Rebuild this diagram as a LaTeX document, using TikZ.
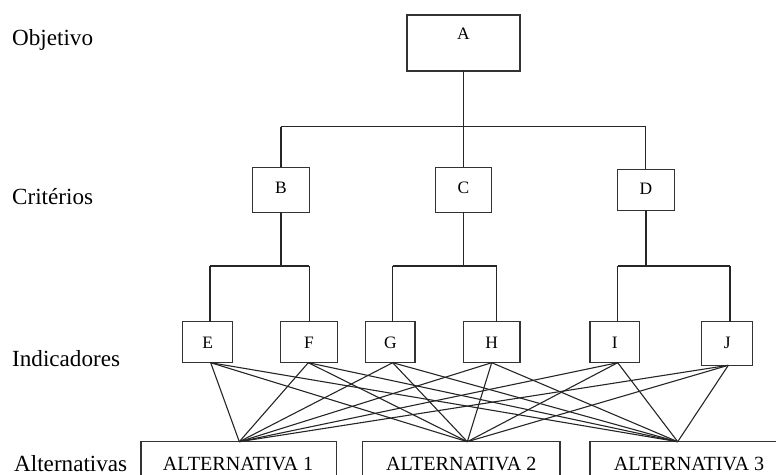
\documentclass[tikz,border=0pt]{standalone}
\usepackage{fontspec}
\setmainfont{Liberation Serif}
\begin{document}
\begin{tikzpicture}[x=1bp,y=-1bp,
  box/.style={draw=black!80, line width=1.3bp, inner sep=0pt, outer sep=0pt},
  letter/.style={anchor=base, inner sep=0pt, font=\fontsize{17.5}{20}\selectfont},
  alttext/.style={anchor=base, inner sep=0pt, font=\fontsize{20.2}{24}\selectfont},
  level/.style={anchor=base west, inner sep=0pt, font=\fontsize{23.2}{27}\selectfont},
  wire/.style={draw=black!85, line width=1.1bp}]
\useasboundingbox (0,0) rectangle (776,475);
\clip (0,0) rectangle (776,475);

% level names
\node[level] (lObj) at (12,46) {Objetivo};
\node[level] (lCri) at (12,205) {Critérios};
\node[level] (lInd) at (12,366.7) {Indicadores};
\node[level, text depth=0pt] (lAlt) at (14,471.5) {Alternativas};

% objective
\node[box, minimum width=113bp, minimum height=56bp] (A) at (463.5,43) {};
\node[letter] (tA) at (463.5,39.3) {A};

% criteria
\node[box, minimum width=56.6bp, minimum height=45bp] (B) at (281,189.8) {};
\node[box, minimum width=56.4bp, minimum height=45bp] (C) at (463.5,189.8) {};
\node[box, minimum width=57.4bp, minimum height=41bp] (D) at (646,189.8) {};
\node[letter] (tB) at (281,193.3) {B};
\node[letter] (tC) at (463.5,193.3) {C};
\node[letter] (tD) at (646,195) {D};

% indicators
\node[box, minimum width=50bp, minimum height=41bp] (E) at (207.7,342.2) {};
\node[box, minimum width=56.6bp, minimum height=41bp] (F) at (309,342.2) {};
\node[box, minimum width=49.3bp, minimum height=41bp] (G) at (390.3,342.2) {};
\node[box, minimum width=56.7bp, minimum height=41bp] (H) at (491.7,342.2) {};
\node[box, minimum width=49.3bp, minimum height=41bp] (I) at (614.7,342.2) {};
\node[box, minimum width=51bp, minimum height=43.6bp] (J) at (727.2,343.5) {};
\node[letter] (tE) at (207.7,348.3) {E};
\node[letter] (tF) at (309,348.3) {F};
\node[letter] (tG) at (390.3,348.3) {G};
\node[letter] (tH) at (491.7,348.3) {H};
\node[letter] (tI) at (614.7,348.3) {I};
\node[letter] (tJ) at (727.2,348.3) {J};

% alternatives (boxes run past the lower and right edges)
\node[box, minimum width=195.7bp, minimum height=60bp] (alt1) at (238.8,471.7) {};
\node[box, minimum width=197.3bp, minimum height=60bp] (alt2) at (461.3,471.7) {};
\node[box, minimum width=230bp, minimum height=60bp] (alt3) at (705,471.7) {};
\node[alttext] (tAlt1) at (238,470) {ALTERNATIVA 1};
\node[alttext] (tAlt2) at (461.3,470) {ALTERNATIVA 2};
\node[alttext] (tAlt3) at (689,470) {ALTERNATIVA 3};

% tree: objective to criteria
\coordinate (b1L) at (281,126.7);
\coordinate (b1M) at (463.5,126.7);
\coordinate (b1R) at (645.7,126.7);
\draw[wire] (A.south) -- (b1M);
\draw[wire] (b1L) -- (b1R);
\draw[wire] (b1L) -- (B.north);
\draw[wire] (b1M) -- (C.north);
\draw[wire] (b1R) -- (b1R |- D.north);

% tree: criteria to indicators
\coordinate (b2a) at (210,266);
\coordinate (b2b) at (309.3,266);
\coordinate (b2c) at (392.7,266);
\coordinate (b2d) at (496.7,266);
\coordinate (b2e) at (617.7,266);
\coordinate (b2f) at (730,266);
\draw[wire] (B.south) -- (B.south |- b2a);
\draw[wire] (C.south) -- (C.south |- b2c);
\draw[wire] (D.south) -- (D.south |- b2e);
\draw[wire] (b2a) -- (b2b);
\draw[wire] (b2c) -- (b2d);
\draw[wire] (b2e) -- (b2f);
\draw[wire] (b2a) -- (b2a |- E.north);
\draw[wire] (b2b) -- (b2b |- F.north);
\draw[wire] (b2c) -- (b2c |- G.north);
\draw[wire] (b2d) -- (b2d |- H.north);
\draw[wire] (b2e) -- (b2e |- I.north);
\draw[wire] (b2f) -- (b2f |- J.north);

% every indicator feeds every alternative
\coordinate (oE) at (210.7,362.7);
\coordinate (oF) at (308.3,362.7);
\coordinate (oG) at (392.7,362.7);
\coordinate (oH) at (491.7,362.7);
\coordinate (oI) at (617.7,362.7);
\coordinate (oJ) at (728.3,365.3);
\coordinate (t1) at (239.3,441.7);
\coordinate (t2) at (467.3,441.7);
\coordinate (t3) at (677.7,441.7);
\foreach \s in {oE,oF,oG,oH,oI,oJ}
  \foreach \t in {t1,t2,t3}
    \draw[wire] (\s) -- (\t);
\end{tikzpicture}
\end{document}
